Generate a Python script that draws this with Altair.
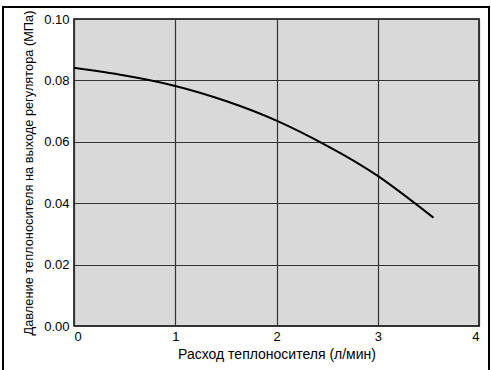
import altair as alt
import pandas as pd

flow = [0.0, 0.5, 1.0, 1.5, 2.0, 2.5, 3.0, 3.55]
pressure = [0.0841, 0.0816, 0.0782, 0.0733, 0.0669, 0.0587, 0.0489, 0.0353]

x_ticks = [0, 1, 2, 3, 4]
y_ticks = [0.00, 0.02, 0.04, 0.06, 0.08, 0.10]

df = pd.DataFrame({"flow": flow, "pressure": pressure})

font = "Liberation Sans"

line = alt.Chart(df).mark_line(color="black", strokeWidth=2, interpolate="natural").encode(
    x=alt.X("flow:Q",
            scale=alt.Scale(domain=[0, 4], nice=False),
            axis=alt.Axis(values=x_ticks, format="d", title="Расход теплоносителя (л/мин)",
                          grid=True, gridColor="#333333", gridWidth=1.2, gridOpacity=1,
                          domain=False, ticks=False, labelPadding=4,
                          labelFont=font, labelFontSize=13, labelColor="black",
                          titleFont=font, titleFontSize=14, titleFontWeight="normal",
                          titleColor="black", titlePadding=4)),
    y=alt.Y("pressure:Q",
            scale=alt.Scale(domain=[0, 0.1], nice=False),
            axis=alt.Axis(values=y_ticks, format=".2f",
                          title="Давление теплоносителя на выходе регулятора (МПа)",
                          grid=True, gridColor="#333333", gridWidth=1.2, gridOpacity=1,
                          domain=False, ticks=False, labelPadding=5,
                          labelFont=font, labelFontSize=13, labelColor="black",
                          titleFont=font, titleFontSize=12.8, titleFontWeight="normal",
                          titleColor="black", titlePadding=8)),
)

frame = alt.Chart(df).mark_rect(fill=None, stroke="black", strokeWidth=1.5).encode(
    x=alt.value(-71), x2=alt.value(415), y=alt.value(-12), y2=alt.value(400)
)

chart = alt.layer(line, frame).properties(
    width=405, height=307,
    padding={"left": 74, "top": 19, "right": 12, "bottom": 44},
    autosize=alt.AutoSizeParams(type="none"),
    background="white",
).configure_view(fill="#d9d9d9", stroke="black", strokeWidth=1.5)

chart.save("out.html", embed_options={"renderer": "svg", "actions": False})
